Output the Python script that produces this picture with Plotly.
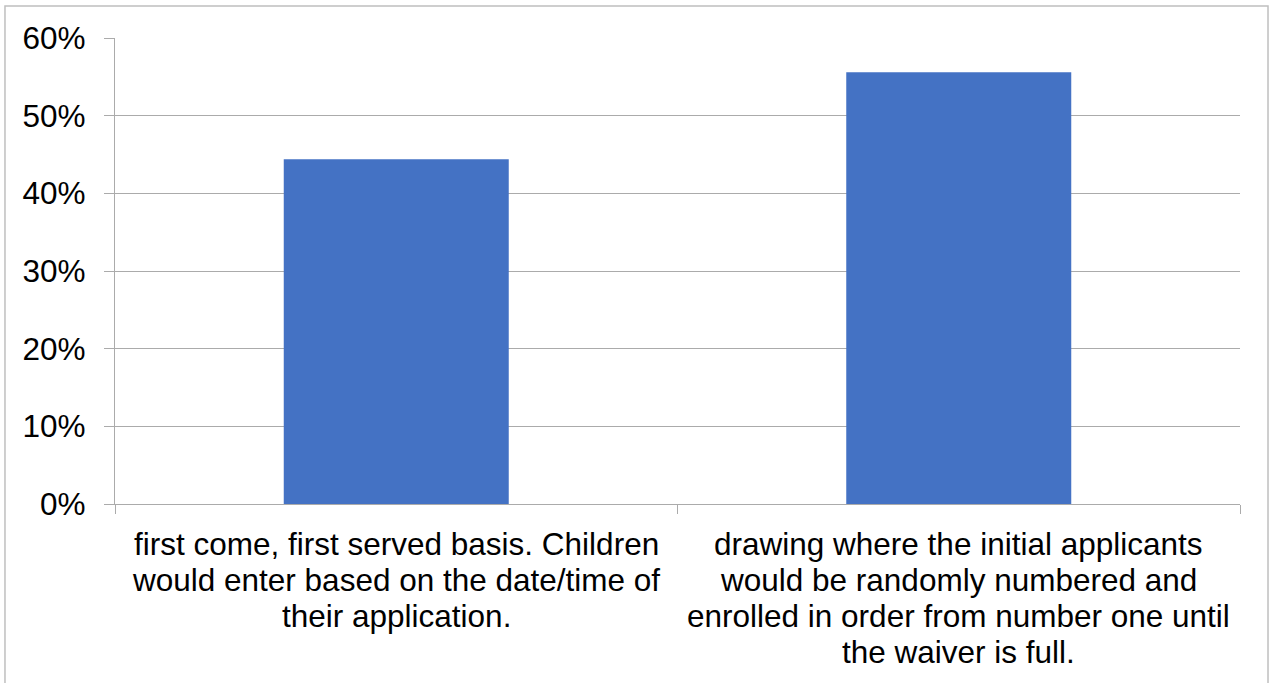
import plotly.graph_objects as go

categories = [
    "first come, first served basis. Children<br>would enter based on the date/time of<br>their application.",
    "drawing where the initial applicants<br>would be randomly numbered and<br>enrolled in order from number one until<br>the waiver is full.",
]
values = [0.444, 0.556]
y_ticks = [0, 0.1, 0.2, 0.3, 0.4, 0.5, 0.6]
y_tick_labels = ["0%", "10%", "20%", "30%", "40%", "50%", "60%"]

grid = "#ABABAB"
font = dict(family="Liberation Sans, Arial, sans-serif", size=31.5, color="#000000")

fig = go.Figure(
    go.Bar(x=categories, y=values, marker=dict(color="#4472C4", line=dict(width=0)),
           hoverinfo="skip")
)

fig.update_layout(
    width=1270,
    height=683,
    margin=dict(l=115, r=30, t=38, b=179),
    paper_bgcolor="white",
    plot_bgcolor="white",
    bargap=0.6,
    showlegend=False,
    font=font,
)

fig.update_xaxes(
    showgrid=False,
    showline=True,
    linecolor=grid,
    linewidth=1.3,
    ticks="outside",
    tickson="boundaries",
    ticklen=9,
    tickcolor=grid,
    tickwidth=1.3,
    showticklabels=False,
)

fig.update_yaxes(
    range=[0, 0.6],
    tickvals=y_ticks,
    ticktext=y_tick_labels,
    showgrid=True,
    gridcolor=grid,
    gridwidth=1.3,
    zeroline=False,
    showline=True,
    linecolor=grid,
    linewidth=1.3,
    ticks="outside",
    ticklen=10,
    tickcolor=grid,
    tickwidth=1.3,
    ticklabelstandoff=12,
    tickfont=font,
)

# category labels, one annotation per line for Excel-like line spacing
line_gap = 36
first_offset = 40
for cat in categories:
    for i, line in enumerate(cat.split("<br>")):
        fig.add_annotation(
            x=cat, y=0, xref="x", yref="y",
            text=line, showarrow=False,
            yanchor="middle", xanchor="center",
            yshift=-(first_offset + i * line_gap),
            font=font,
        )

# chart area border
fig.add_shape(
    type="rect",
    xref="paper", yref="paper",
    x0=-0.0978, x1=1.0249, y0=-0.6, y1=1.0687,
    line=dict(color="#BFBFBF", width=1.5),
    fillcolor="rgba(0,0,0,0)",
    layer="below",
)

fig.write_html(
    "out.html",
    config={"displayModeBar": False},
    post_script="document.body.style.margin='0';document.body.style.padding='0';",
)
